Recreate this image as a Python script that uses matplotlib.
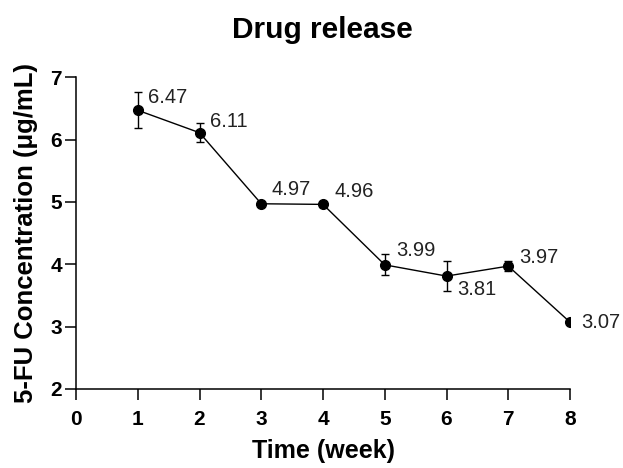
import numpy as np
import matplotlib
matplotlib.use('Agg')
import matplotlib.pyplot as plt

plt.rcParams['font.family'] = ['Liberation Sans', 'DejaVu Sans']

# Datos
weeks = [1, 2, 3, 4, 5, 6, 7, 8]
conc = [6.47, 6.11, 4.97, 4.96, 3.99, 3.81, 3.97, 3.07]
err = [0.29, 0.15, 0.0, 0.04, 0.17, 0.24, 0.085, 0.0]
labels = ['6.47', '6.11', '4.97', '4.96', '3.99', '3.81', '3.97', '3.07']
# desplazamiento de etiquetas (puntos)
offsets = [(7.5, 9.5), (7.5, 8), (7.5, 10), (8, 9.5), (8, 10), (8, -10), (8, 6), (8, 0)]

fig = plt.figure(figsize=(6.23, 4.68), dpi=100)
ax = fig.add_axes([0.122, 0.169, 0.793, 0.666])

ax.errorbar(weeks, conc, yerr=err, color='black', lw=1.0, marker='o', ms=7,
            capsize=3, elinewidth=1.0, capthick=1.0)

for x, y, t, off in zip(weeks, conc, labels, offsets):
    ax.annotate(t, (x, y), xytext=off, textcoords='offset points',
                fontsize=14.5, ha='left', va='center', color='#222222')

ax.set_xlim(0, 8)
ax.set_ylim(2, 7)
ax.set_xticks(range(0, 9))
ax.set_yticks(range(2, 8))
ax.spines['top'].set_visible(False)
ax.spines['right'].set_visible(False)
ax.spines['left'].set_linewidth(1.1)
ax.spines['bottom'].set_linewidth(1.1)
ax.tick_params(direction='out', length=8, width=1.1, labelsize=15)
ax.tick_params(axis='x', pad=7)
ax.tick_params(axis='y', pad=2)
for lab in ax.get_xticklabels() + ax.get_yticklabels():
    lab.set_fontweight('bold')

fig.text(0.518, 0.936, 'Drug release', fontsize=21.5, fontweight='bold',
         ha='center', va='center')
ax.set_xlabel('Time (week)', fontsize=18, fontweight='bold')
ax.set_ylabel('5-FU Concentration (μg/mL)', fontsize=18.5, fontweight='bold')
ax.xaxis.label.set_va('center')
ax.yaxis.label.set_va('center')
ax.xaxis.set_label_coords(0.5, -0.199)
ax.yaxis.set_label_coords(-0.102, 0.5)

fig.savefig('out.png', dpi=100)
